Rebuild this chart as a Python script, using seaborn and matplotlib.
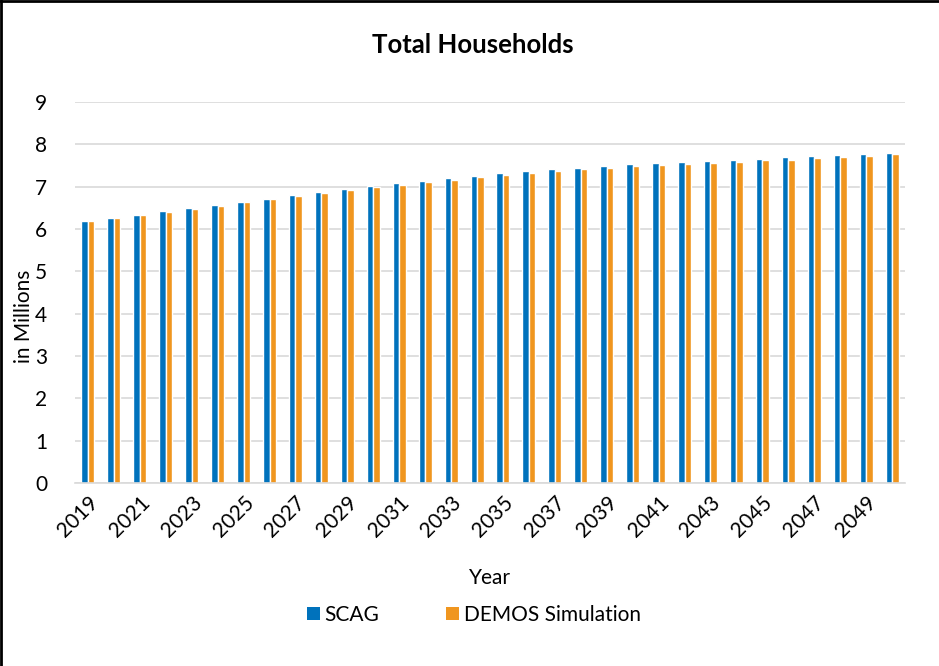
import matplotlib
matplotlib.use("Agg")
import matplotlib.pyplot as plt
from matplotlib.patches import Patch
from matplotlib.lines import Line2D
import seaborn as sns
import pandas as pd

# Total households projection, in millions
years = list(range(2019, 2051))
scag = [6.19, 6.25, 6.34, 6.42, 6.49, 6.56, 6.64, 6.72, 6.80, 6.87,
        6.94, 7.02, 7.08, 7.14, 7.20, 7.26, 7.32, 7.36, 7.41, 7.45,
        7.49, 7.53, 7.55, 7.58, 7.60, 7.63, 7.66, 7.69, 7.72, 7.74,
        7.78, 7.80]
demos = [6.19, 6.25, 6.32, 6.40, 6.48, 6.55, 6.63, 6.70, 6.78, 6.85,
         6.92, 6.99, 7.04, 7.11, 7.16, 7.23, 7.28, 7.33, 7.36, 7.41,
         7.45, 7.49, 7.51, 7.53, 7.56, 7.59, 7.62, 7.64, 7.67, 7.69,
         7.72, 7.76]
series_names = ["SCAG", "DEMOS Simulation"]
series_colors = ["#0072BC", "#F0961F"]
y_ticks = list(range(0, 10))

df = pd.DataFrame({
    "Year": [str(y) for y in years] * 2,
    "Households": scag + demos,
    "Series": [series_names[0]] * len(years) + [series_names[1]] * len(years),
})

sns.set_theme(style="white")
plt.rcParams["font.family"] = ["Lato", "DejaVu Sans"]
plt.rcParams["text.color"] = "black"
plt.rcParams["axes.labelcolor"] = "black"
plt.rcParams["xtick.color"] = "black"
plt.rcParams["ytick.color"] = "black"

FS = 15

fig = plt.figure(figsize=(9.39, 6.66), dpi=100)
ax = fig.add_axes([75 / 939, 1 - 483 / 666, 830 / 939, 381 / 666])

sns.barplot(data=df, x="Year", y="Households", hue="Series",
            hue_order=series_names, palette=series_colors,
            width=0.5, saturation=1, legend=False, ax=ax)

ax.set_xlim(-0.5, len(years) - 0.5)
ax.set_ylim(0, 9)
ax.set_yticks(y_ticks)
ax.set_yticklabels([str(t) for t in y_ticks], fontsize=FS)
ax.yaxis.grid(True, color="#D9D9D9", linewidth=1.2)
ax.set_axisbelow(True)
for side in ["top", "right", "left"]:
    ax.spines[side].set_visible(False)
ax.spines["bottom"].set_color("#D9D9D9")
ax.spines["bottom"].set_linewidth(1.2)

ax.set_xticks(range(len(years)))
ax.set_xticklabels([str(y) if (y - years[0]) % 2 == 0 else "" for y in years],
                   rotation=45, ha="right", rotation_mode="anchor", fontsize=FS)
ax.tick_params(axis="x", length=0, pad=7)
ax.tick_params(axis="y", length=0, pad=20)

ax.set_xlabel("Year", fontsize=FS)
ax.xaxis.set_label_coords(0.5, -0.249)
ax.xaxis.label.set_va("center")
ax.set_ylabel("in Millions", fontsize=FS)
ax.yaxis.set_label_coords(-0.062, 0.438)
ax.yaxis.label.set_va("center")

fig.text(473 / 939, 1 - 45 / 666, "Total Households", ha="center", va="center",
         fontsize=18.5, fontweight="bold")

handles = [Patch(facecolor=c, edgecolor="none", label=n)
           for n, c in zip(series_names, series_colors)]
fig.legend(handles=handles, loc="center", bbox_to_anchor=(474 / 939, 1 - 615 / 666),
           ncol=2, frameon=False, fontsize=FS, handlelength=0.6, handleheight=0.6,
           handletextpad=0.25, columnspacing=3.2)

# chart frame edges
fig.add_artist(Line2D([0, 1], [0.998, 0.998], transform=fig.transFigure,
                      color="black", linewidth=2))
fig.add_artist(Line2D([0.001, 0.001], [0, 1], transform=fig.transFigure,
                      color="black", linewidth=2))

fig.savefig("out.png", dpi=100)
